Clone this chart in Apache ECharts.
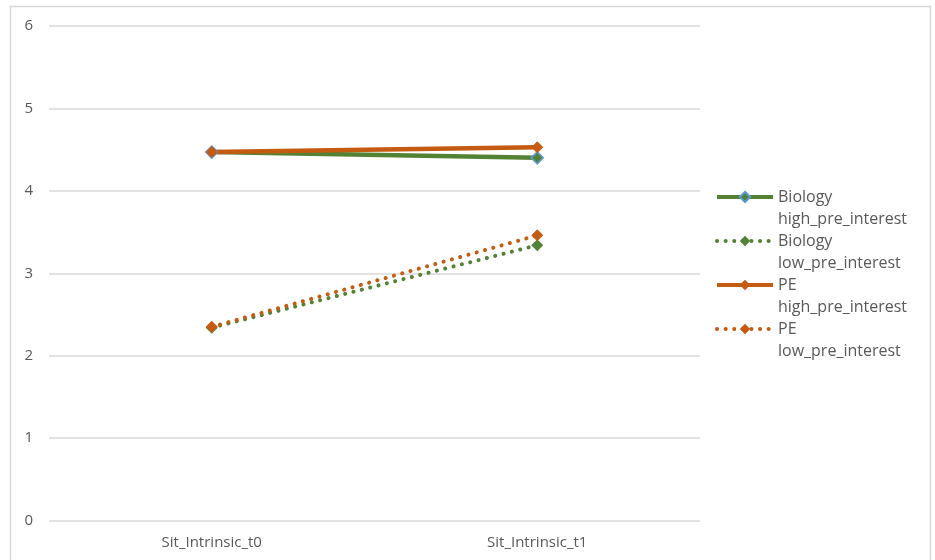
<!DOCTYPE html>
<html><head><meta charset="utf-8">
<script src="https://cdn.jsdelivr.net/npm/echarts@6/dist/echarts.min.js"></script>
<style>html,body{margin:0;padding:0;background:#fff}#c{width:935px;height:560px}</style>
</head><body><div id="c"></div>
<script>
const categories = ['Sit_Intrinsic_t0', 'Sit_Intrinsic_t1'];
const bioHigh = [4.47, 4.40];
const bioLow = [2.34, 3.34];
const peHigh = [4.47, 4.53];
const peLow = [2.35, 3.46];
const seriesNames = ['Biology\nhigh_pre_interest', 'Biology\nlow_pre_interest', 'PE\nhigh_pre_interest', 'PE\nlow_pre_interest'];
const yTicks = [0, 1, 2, 3, 4, 5, 6];

const green = '#548235', orange = '#C55A11';
const font = 'Open Sans';
const chart = echarts.init(document.getElementById('c'));
function mk(name, data, color, dotted, border) {
  return {
    name, type: 'line', data, symbol: 'diamond', symbolSize: 12,
    lineStyle: dotted ? { color, width: 4, type: [0.1, 8.5], cap: 'round' } : { color, width: 4.5 },
    itemStyle: { color, borderColor: border || color, borderWidth: border ? 1.5 : 0 },
    z: dotted ? 2 : 3
  };
}
chart.setOption({
  animation: false,
  graphic: [{ type: 'rect', shape: { x: 10.5, y: 6.5, width: 920, height: 570 }, style: { fill: 'none', stroke: '#d9d9d9', lineWidth: 1.5 }, silent: true }],
  grid: { left: 49, right: 235, top: 26, bottom: 39.5 },
  xAxis: {
    type: 'category', data: categories, boundaryGap: true,
    axisLine: { show: false }, axisTick: { show: false },
    axisLabel: { color: '#595959', fontSize: 15, fontFamily: font, margin: 15 }
  },
  yAxis: {
    type: 'value', min: yTicks[0], max: yTicks[yTicks.length - 1], interval: 1,
    axisLine: { show: false }, axisTick: { show: false },
    axisLabel: { color: '#595959', fontSize: 15, fontFamily: font, margin: 16 },
    splitLine: { lineStyle: { color: '#d9d9d9', width: 1.5 } }
  },
  legend: {
    orient: 'vertical', left: 710, top: 159, itemWidth: 56, itemHeight: 13, itemGap: -22,
    data: seriesNames,
    formatter: n => '\n' + n,
    lineStyle: { width: 4 },
    textStyle: { color: '#595959', fontSize: 16, fontFamily: font, lineHeight: 22 }
  },
  series: [
    mk(seriesNames[0], bioHigh, green, false, '#5B9BD5'),
    mk(seriesNames[1], bioLow, green, true),
    mk(seriesNames[2], peHigh, orange, false),
    mk(seriesNames[3], peLow, orange, true)
  ]
});
</script></body></html>
